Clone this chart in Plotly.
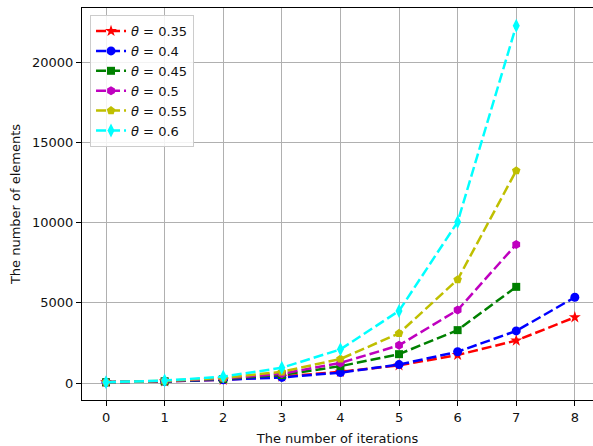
import plotly.graph_objects as go

iterations = [0, 1, 2, 3, 4, 5, 6, 7, 8]
theta_labels = ["0.35", "0.4", "0.45", "0.5", "0.55", "0.6"]
vals_035 = [50, 100, 200, 400, 700, 1100, 1750, 2650, 4100]
vals_040 = [50, 100, 200, 350, 650, 1150, 1950, 3250, 5350]
vals_045 = [50, 110, 250, 500, 1050, 1800, 3300, 6000]
vals_050 = [50, 120, 280, 580, 1250, 2350, 4550, 8650]
vals_055 = [50, 130, 320, 700, 1500, 3100, 6450, 13250]
vals_060 = [50, 150, 400, 950, 2100, 4500, 10050, 22300]
y_ticks = [0, 5000, 10000, 15000, 20000]

series = [vals_035, vals_040, vals_045, vals_050, vals_055, vals_060]
colors = ["#ff0000", "#0000ff", "#008000", "#bf00bf", "#bfbf00", "#00ffff"]
symbols = ["star", "circle", "square", "hexagon", "pentagon", "diamond-tall"]
sizes = [9, 9, 8, 9, 9, 10]

fig = go.Figure()
for lab, vals, c, s, sz in zip(theta_labels, series, colors, symbols, sizes):
    fig.add_trace(go.Scatter(
        x=iterations[:len(vals)], y=vals, mode="lines+markers",
        name="<i>θ</i> = " + lab,
        line=dict(color=c, width=2.5, dash="10px,4px"),
        marker=dict(symbol=s, size=sz, color=c, line=dict(width=0)),
    ))

font = dict(family="DejaVu Sans", size=13, color="#111")
fig.update_layout(
    width=593, height=446,
    margin=dict(l=82, r=0, t=8, b=46),
    paper_bgcolor="white", plot_bgcolor="white",
    font=font,
    showlegend=True,
    legend=dict(x=0.0157, y=0.982, xanchor="left", yanchor="top",
                bgcolor="rgba(255,255,255,0.85)", bordercolor="#cccccc", borderwidth=1,
                font=dict(family="DejaVu Sans", size=13, color="#111"),
                tracegroupgap=0),
    xaxis=dict(range=[-0.41, 8.31], tickmode="array", tickvals=iterations,
               ticktext=[str(i) for i in iterations], automargin=False,
               showgrid=True, gridcolor="#b0b0b0", gridwidth=1,
               showline=True, linecolor="#000", linewidth=1, mirror=True,
               ticks="outside", ticklen=5, tickcolor="#000", zeroline=False,
               tickfont=dict(size=13),
               title=dict(text="The number of iterations", standoff=10,
                          font=dict(size=13))),
    yaxis=dict(range=[-1060, 23400], tickmode="array",
               tickvals=y_ticks, ticktext=[str(v) for v in y_ticks], automargin=False,
               showgrid=True, gridcolor="#b0b0b0", gridwidth=1,
               showline=True, linecolor="#000", linewidth=1, mirror=False,
               ticks="outside", ticklen=5, tickcolor="#000", zeroline=False,
               tickfont=dict(size=13),
               title=dict(text="The number of elements", standoff=8,
                          font=dict(size=13))),
)
fig.write_html("out.html", config={"displayModeBar": False},
               post_script="document.body.style.margin='0';document.body.style.overflow='hidden';")
